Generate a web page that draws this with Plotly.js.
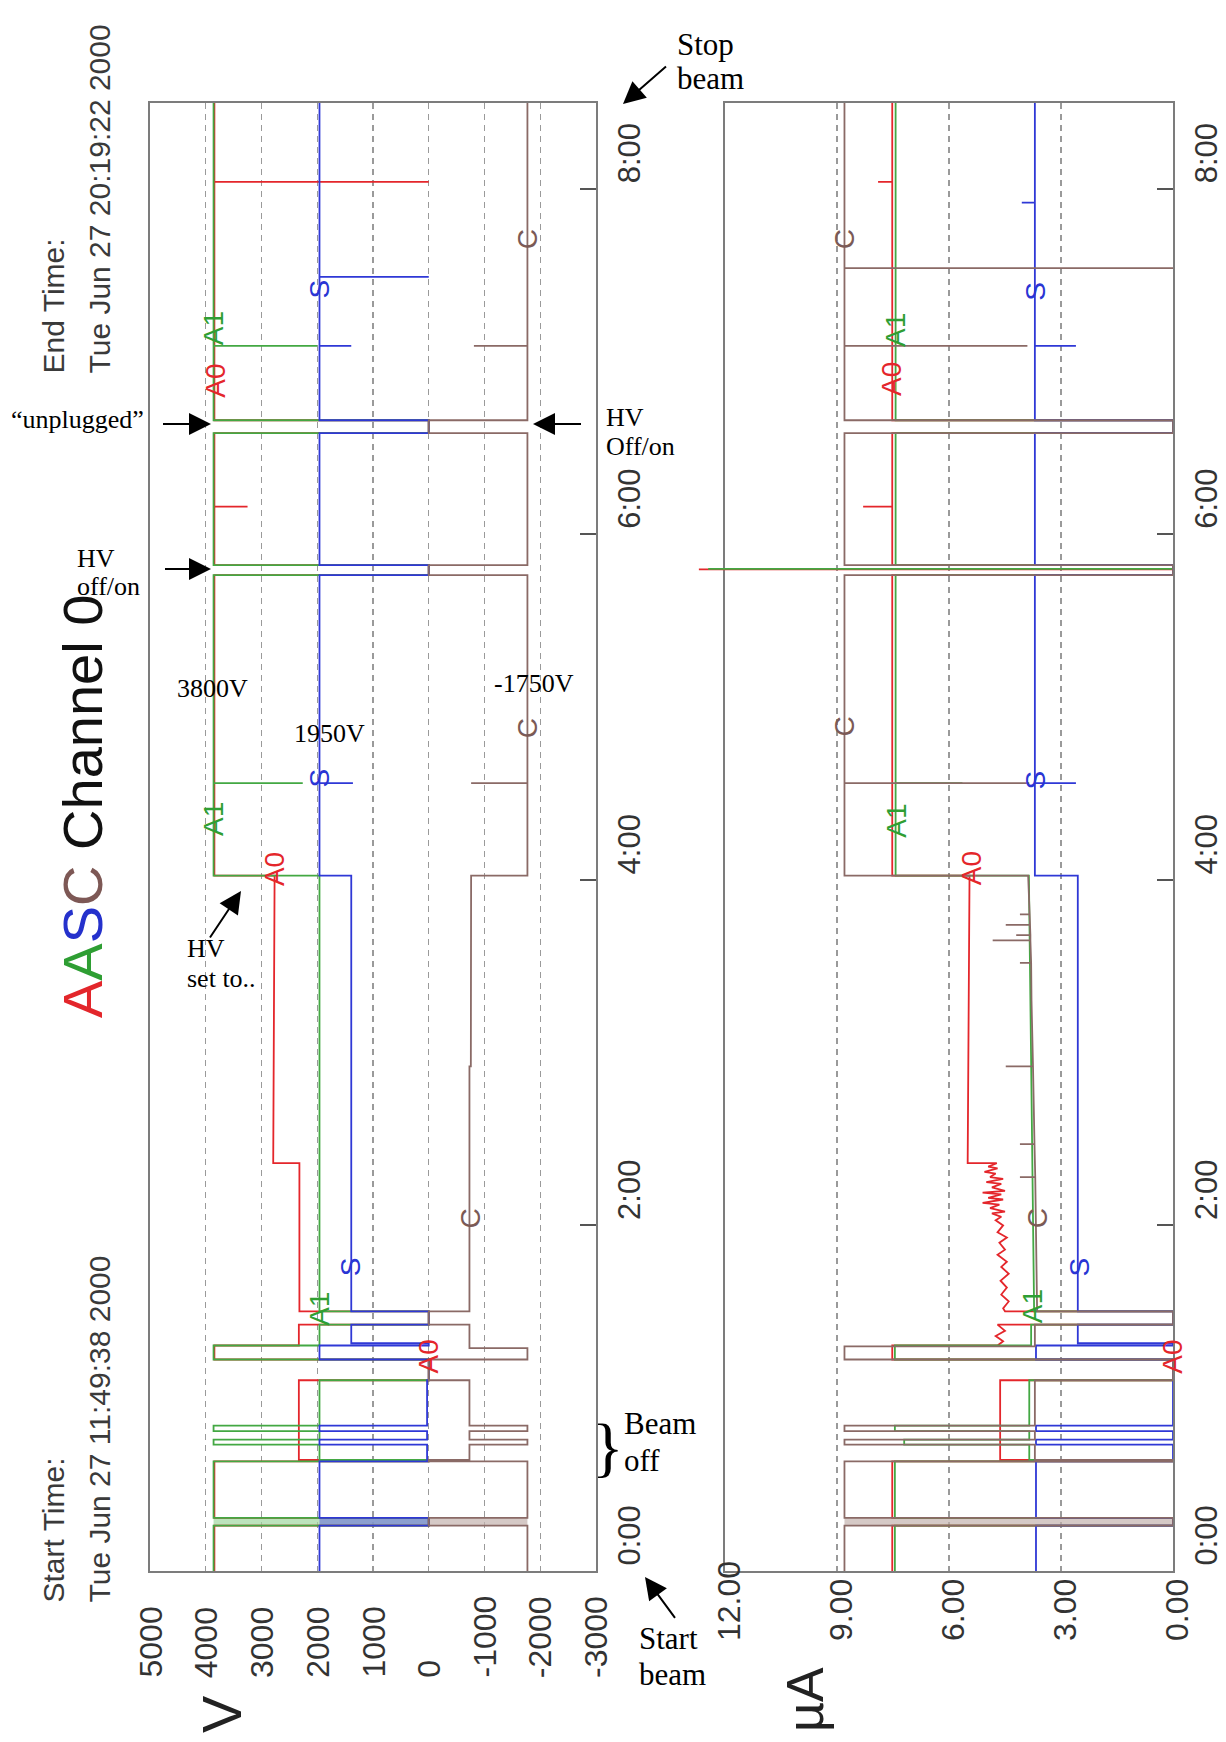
<!DOCTYPE html>
<html><head><meta charset="utf-8">
<script src="https://cdn.plot.ly/plotly-3.0.1.min.js"></script>
<style>html,body{margin:0;padding:0;background:#fff;}#chart{width:1226px;height:1742px;}</style>
</head><body><div id="chart"></div>
<script>
// ---------------- data ----------------
const timeTicks = [0, 2, 4, 6, 8];
const timeTickText = ['0:00', '2:00', '4:00', '6:00', '8:00'];
const voltTicks = [5000, 4000, 3000, 2000, 1000, 0, -1000, -2000, -3000];
const voltTickText = ['5000', '4000', '3000', '2000', '1000', '0', '-1000', '-2000', '-3000'];
const curTicks = [12, 9, 6, 3, 0];
const curTickText = ['12.00', '9.00', '6.00', '3.00', '0.00'];
const tEnd = 8.496; // hours after 11:49:38 (end 20:19:22)

// band (slow HV off/on, drawn filled)
const bandT = [0.263, 0.307];

// A0 voltage (V)
const tA0V = [0,0.263,0.263,0.307,0.307,0.635,0.635,0.643,0.643,1.104,1.104,1.224,1.224,1.305,1.305,1.426,1.426,1.503,1.503,2.36,2.36,4.025,4.025,5.764,5.764,5.822,5.822,6.16,6.16,6.16,6.585,6.585,6.66,6.66,8.04,8.04,8.04,8.496];
const vA0  = [3845,3845,0,0,3845,3845,0,0,2330,2330,0,0,3845,3845,2330,2330,0,0,2320,2320,2790,2765,3845,3845,0,0,3845,3845,3250,3845,3845,0,0,3845,3845,0,3845,3845];
// A1 voltage
const tA1V = [0,0.263,0.263,0.307,0.307,0.635,0.635,0.643,0.643,0.731,0.731,0.760,0.760,0.809,0.809,0.841,0.841,1.104,1.104,1.224,1.224,1.305,1.305,1.426,1.426,1.503,1.503,4.025,4.025,4.56,4.56,4.56,5.764,5.764,5.822,5.822,6.585,6.585,6.66,6.66,7.09,7.09,7.09,8.496];
const vA1  = [3860,3860,0,0,3860,3860,0,0,1960,1960,3860,3860,1960,1960,3860,3860,1960,1960,0,0,3860,3860,1960,1960,0,0,1960,1960,3860,3860,2260,3860,3860,0,0,3860,3860,0,0,3860,3860,2000,3860,3860];
// S voltage
const tSV = [0,0.263,0.263,0.307,0.307,0.635,0.635,0.643,0.731,0.731,0.760,0.760,0.809,0.809,0.841,0.841,1.104,1.104,1.224,1.224,1.305,1.305,1.318,1.318,1.426,1.426,1.503,1.503,4.025,4.025,4.56,4.56,4.56,5.764,5.764,5.822,5.822,6.585,6.585,6.66,6.66,7.09,7.09,7.09,7.49,7.49,7.49,8.496];
const vS  = [1960,1960,0,0,1960,1960,0,30,30,1960,1960,30,30,1960,1960,30,30,0,0,1960,1960,0,0,1390,1390,0,0,1390,1390,1960,1960,1360,1960,1960,0,0,1960,1960,0,0,1960,1960,1390,1960,1960,0,1960,1960];
// C voltage
const tCV = [0,0.263,0.263,0.307,0.307,0.635,0.635,0.643,0.643,0.731,0.731,0.760,0.760,0.809,0.809,0.841,0.841,1.104,1.104,1.224,1.224,1.29,1.29,1.426,1.426,1.503,1.503,2.92,2.92,4.025,4.025,4.56,4.56,4.56,5.764,5.764,5.822,5.822,6.585,6.585,6.66,6.66,7.09,7.09,7.09,8.496];
const vC  = [-1770,-1770,0,0,-1770,-1770,0,0,-730,-730,-1770,-1770,-730,-730,-1770,-1770,-730,-730,0,0,-1770,-1770,-730,-730,0,0,-730,-730,-755,-760,-1770,-1770,-760,-1770,-1770,0,0,-1770,-1770,0,0,-1770,-1770,-810,-1770,-1770];

// A0 current (uA)
const tA0I = [0,0.263,0.263,0.307,0.307,0.635,0.635,0.643,0.643,1.104,1.104,1.224,1.224,1.305,1.305,1.33,1.36,1.39,1.426,1.426,1.503,
  1.503,1.52,1.56,1.60,1.64,1.68,1.72,1.76,1.79,1.83,1.86,1.90,1.93,1.96,2.00,2.03,2.05,2.07,2.08,2.10,2.12,2.13,2.15,2.16,2.18,2.19,2.20,2.22,2.24,2.25,2.27,2.28,2.30,2.31,2.33,2.34,2.36,
  2.36,4.025,4.025,5.764,5.764,5.797,5.797,5.797,5.822,5.822,6.16,6.16,6.16,6.585,6.585,6.66,6.66,8.04,8.04,8.04,8.496];
const iA0 = [7.52,7.52,0,0,7.52,7.52,0,0,4.63,4.63,0,0,7.52,7.52,4.7,4.55,4.75,4.5,4.7,0,0,
  4.5,4.55,4.4,4.6,4.45,4.62,4.4,4.6,4.45,4.7,4.5,4.65,4.45,4.7,4.55,4.75,4.6,4.85,4.5,4.9,4.65,5.1,4.55,4.95,4.6,5.1,4.5,4.85,4.6,5.0,4.55,4.9,4.75,5.05,4.7,4.95,4.72,
  5.5,5.45,7.52,7.52,0,0,12.7,0,0,7.52,7.52,8.3,7.52,7.52,0,0,7.52,7.52,7.9,7.52,7.52];
// A1 current
const tA1I = [0,0.263,0.263,0.307,0.307,0.635,0.635,0.643,0.643,0.731,0.731,0.760,0.760,0.809,0.809,0.841,0.841,1.104,1.104,1.224,1.224,1.305,1.305,1.426,1.426,1.503,1.503,2.0,2.5,3.0,3.5,4.025,4.025,4.56,4.56,4.56,5.764,5.764,5.800,5.800,5.800,5.822,5.822,6.585,6.585,6.66,6.66,8.496];
const iA1 = [7.45,7.45,0,0,7.45,7.45,0,0,3.85,3.85,7.2,7.2,3.85,3.85,7.45,7.45,3.85,3.85,0,0,7.45,7.45,3.8,3.8,0,0,3.72,3.75,3.78,3.8,3.83,3.86,7.43,7.43,5.64,7.43,7.43,0,0,12.45,0,0,7.43,7.43,0,0,7.43,7.43];
// S current
const tSI = [0,0.263,0.263,0.307,0.307,0.635,0.635,0.731,0.731,0.760,0.760,0.809,0.809,0.841,0.841,1.224,1.224,1.305,1.305,1.318,1.318,1.426,1.426,1.503,1.503,4.025,4.025,4.56,4.56,4.56,5.764,5.764,5.822,5.822,5.822,6.585,6.585,6.66,6.66,7.09,7.09,7.09,7.92,7.92,7.92,8.496];
const iS = [3.67,3.67,0,0,3.67,3.67,0,0,3.67,3.67,0,0,3.67,3.67,0,0,3.67,3.67,0,0,2.55,2.55,0,0,2.55,2.55,3.7,3.7,2.6,3.7,3.7,0,0,2.6,3.7,3.7,0,0,3.7,3.7,2.6,3.7,3.7,4.05,3.7,3.7];
// C current
const tCI = [0,0.263,0.263,0.307,0.307,0.635,0.635,0.643,0.643,0.731,0.731,0.760,0.760,0.809,0.809,0.841,0.841,1.104,1.104,1.224,1.224,1.30,1.30,1.426,1.426,1.503,1.503,2.0,2.28,2.28,2.28,2.47,2.47,2.47,2.92,2.92,2.92,3.3,3.52,3.52,3.52,3.65,3.65,3.65,3.68,3.68,3.68,3.74,3.74,3.74,3.80,3.80,3.80,4.025,4.025,4.56,4.56,4.56,5.764,5.764,5.822,5.822,6.585,6.585,6.66,6.66,7.09,7.09,7.09,7.54,7.54,7.54,8.496];
const iC = [8.8,8.8,0,0,8.8,8.8,0,0,3.7,3.7,8.8,8.8,3.7,3.7,8.8,8.8,3.7,3.7,0,0,8.8,8.8,3.7,3.7,0,0,3.64,3.67,3.69,4.1,3.69,3.71,4.1,3.71,3.75,4.48,3.75,3.79,3.8,4.1,3.8,3.82,4.83,3.82,3.82,4.2,3.82,3.83,4.48,3.83,3.84,4.1,3.84,3.88,8.8,8.8,3.85,8.8,8.8,0,0,8.8,8.8,0,0,8.8,8.8,3.9,8.8,8.8,0,8.8,8.8];

// channel label positions [value, time]
const voltLabels = [
  ['A0', 3830, 6.89], ['A1', 3860, 7.19], ['S', 1960, 7.42], ['C', -1770, 7.71],
  ['A0', 2765, 4.06], ['A1', 3860, 4.35], ['S', 1960, 4.59], ['C', -1770, 4.88],
  ['A0', 0, 1.24], ['A1', 1960, 1.52], ['S', 1390, 1.76], ['C', -740, 2.04]
];
const curLabels = [
  ['A0', 7.52, 6.90], ['A1', 7.43, 7.18], ['S', 3.67, 7.41], ['C', 8.8, 7.71],
  ['A0', 5.40, 4.07], ['A1', 7.43, 4.34], ['S', 3.67, 4.58], ['C', 8.8, 4.89],
  ['A0', 0, 1.24], ['A1', 3.76, 1.53], ['S', 2.5, 1.76], ['C', 3.62, 2.04]
];

// ---------------- styling ----------------
const W = 1226, H = 1742;
const px = x => x / W, py = y => 1 - y / H;
const sans = 'Liberation Sans, Arial, sans-serif';
const serif = 'Liberation Serif, Times New Roman, serif';
const col = {A0: '#e4262b', A1: '#43a843', S: '#2f38d6', C: '#8a6a66'};
const labCol = {A0: '#e4262b', A1: '#2f9e33', S: '#2a35d4', C: '#7b5a56'};
const lw = 1.8;

const lDom = [150 / W, 596 / W], rDom = [725 / W, 1173 / W], extDom = [695 / W, 1173 / W];
const yDom = [1 - 1571 / H, 1 - 103 / H];
const x3Left = 12 + (725 - 695) * 12 / (1173 - 725);

function line(t, v, c, xa, ya) {
  return {x: v, y: t, mode: 'lines', line: {color: c, width: lw}, xaxis: xa, yaxis: ya, hoverinfo: 'skip', showlegend: false};
}
function band(vNom, fill, xa, ya) {
  return {x: [vNom, 0, 0, vNom, vNom], y: [bandT[0], bandT[0], bandT[1], bandT[1], bandT[0]], mode: 'lines', fill: 'toself',
    fillcolor: fill, line: {width: 0}, xaxis: xa, yaxis: ya, hoverinfo: 'skip', showlegend: false};
}

const traces = [
  band(vA1[0], 'rgba(160,215,160,0.7)', 'x', 'y'),
  band(vS[0], 'rgba(120,130,215,0.7)', 'x', 'y'),
  band(vC[0], 'rgba(195,178,174,0.7)', 'x', 'y'),
  band(iC[0], 'rgba(195,178,174,0.7)', 'x3', 'y3'),
  line(tA0V, vA0, col.A0, 'x', 'y'),
  line(tA1V, vA1, col.A1, 'x', 'y'),
  line(tSV, vS, col.S, 'x', 'y'),
  line(tCV, vC, col.C, 'x', 'y'),
  line(tA0I, iA0, col.A0, 'x3', 'y3'),
  line(tA1I, iA1, col.A1, 'x3', 'y3'),
  line(tSI, iS, col.S, 'x3', 'y3'),
  line(tCI, iC, col.C, 'x3', 'y3')
];

const frame = {showline: true, mirror: true, linecolor: '#7c7c7c', linewidth: 2, zeroline: false, fixedrange: true};
const xGrid = {showgrid: true, gridcolor: '#9a9a9a', griddash: '6px,5px', gridwidth: 1.2, ticks: '', showticklabels: false};
const yTime = {range: [0, tEnd], domain: yDom, side: 'right', tickvals: timeTicks, ticktext: timeTickText,
  ticks: 'inside', ticklen: 16, tickwidth: 2, tickcolor: '#555', tickangle: -90,
  tickfont: {family: sans, size: 31, color: '#333'}, ticklabelshift: -31, ticklabelstandoff: 5, showgrid: false};

const ann = [];
// tick labels on value axes
voltTicks.forEach((v, i) => ann.push({x: v, xref: 'x', y: py(1680), yref: 'paper', text: voltTickText[i], textangle: -90,
  xanchor: 'center', yanchor: 'bottom', showarrow: false, font: {family: sans, size: 32, color: '#333'}}));
curTicks.forEach((v, i) => ann.push({x: v, xref: 'x2', y: py(1643), yref: 'paper', text: curTickText[i], textangle: -90,
  xanchor: 'center', yanchor: 'bottom', xshift: 4, showarrow: false, font: {family: sans, size: 32, color: '#333'}}));
// channel labels
voltLabels.forEach(l => ann.push({x: l[1], y: l[2], xref: 'x', yref: 'y', text: l[0], textangle: -90, showarrow: false,
  font: {family: sans, size: 28, color: labCol[l[0]]}}));
curLabels.forEach(l => ann.push({x: l[1], y: l[2], xref: 'x2', yref: 'y2', text: l[0], textangle: -90, showarrow: false,
  font: {family: sans, size: 28, color: labCol[l[0]]}}));
// rotated texts
function rot(text, x, y, size, color, yanchor) {
  ann.push({x: px(x), y: py(y), xref: 'paper', yref: 'paper', text: text, textangle: -90, showarrow: false,
    xanchor: 'center', yanchor: yanchor || 'middle', font: {family: sans, size: size, color: color || '#333'}});
}
rot('<span style="color:#e3262b">A</span><span style="color:#2e9e33">A</span><span style="color:#2531cc">S</span><span style="color:#7d5855">C</span> Channel 0', 82, 807, 56, '#111');
rot('Start Time:', 53, 1605, 30, '#3a3a3a', 'bottom');
rot('Tue Jun 27 11:49:38 2000', 99, 1605, 30, '#3a3a3a', 'bottom');
rot('End Time:', 53, 376, 30, '#3a3a3a', 'bottom');
rot('Tue Jun 27 20:19:22 2000', 99, 376, 30, '#3a3a3a', 'bottom');
rot('V', 221, 1714, 56, '#222');
rot('\u00b5A', 805, 1700, 52, '#222');
// horizontal notes
function note(text, x, y, size, anchor) {
  ann.push({x: px(x), y: py(y), xref: 'paper', yref: 'paper', text: text, showarrow: false,
    xanchor: anchor || 'left', yanchor: 'middle', font: {family: serif, size: size, color: '#000'}});
}
note('Stop', 675, 45, 31); note('beam', 675, 78, 31);
note('\u201cunplugged\u201d', 9, 420, 26);
note('HV', 604, 417, 26); note('Off/on', 604, 446, 26);
note('HV', 75, 559, 26); note('off/on', 75, 586, 26);
note('3800V', 175, 689, 26);
note('1950V', 292, 734, 26);
note('-1750V', 492, 684, 26);
note('HV', 185, 948, 26); note('set to..', 185, 978, 26);
note('}', 608, 1446, 66, 'center');
note('Beam', 622, 1423, 31); note('off', 622, 1460, 31);
note('Start', 637, 1638, 31); note('beam', 637, 1674, 31);
// arrows: tip, tail
function arrow(tipX, tipY, tailX, tailY) {
  ann.push({x: px(tipX), y: py(tipY), xref: 'paper', yref: 'paper', ax: tailX - tipX, ay: tailY - tipY, showarrow: true,
    arrowhead: 2, arrowsize: 2.2, arrowwidth: 2, arrowcolor: '#000', standoff: 0});
}
arrow(623, 104, 669, 64);
arrow(211, 424, 160, 424);
arrow(533, 424, 584, 424);
arrow(211, 569, 162, 569);
arrow(241, 891, 207, 942);
arrow(645, 1577, 678, 1622);

const layout = {
  width: W, height: H, margin: {l: 0, r: 0, t: 0, b: 0},
  paper_bgcolor: '#ffffff', plot_bgcolor: 'rgba(0,0,0,0)', showlegend: false,
  xaxis: Object.assign({}, frame, xGrid, {domain: lDom, range: [5000, -3000], tickvals: voltTicks, anchor: 'y'}),
  yaxis: Object.assign({}, frame, yTime, {anchor: 'x'}),
  xaxis2: Object.assign({}, frame, xGrid, {domain: rDom, range: [12, 0], tickvals: curTicks, anchor: 'y2'}),
  yaxis2: Object.assign({}, frame, yTime, {anchor: 'x2', ticklabelstandoff: 5}),
  xaxis3: {domain: extDom, range: [x3Left, 0], visible: false, anchor: 'y3', fixedrange: true},
  yaxis3: {domain: yDom, range: [0, tEnd], visible: false, anchor: 'x3', fixedrange: true},
  annotations: ann
};
Plotly.newPlot('chart', traces, layout, {staticPlot: true, displayModeBar: false});
</script></body></html>
